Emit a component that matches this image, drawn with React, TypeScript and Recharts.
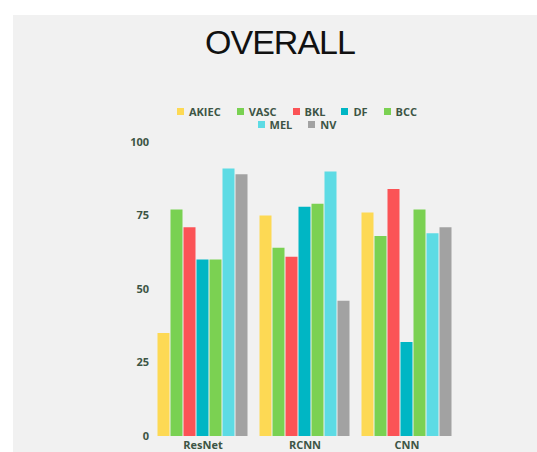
import { BarChart, Bar, XAxis, YAxis, Legend } from "recharts";

const models = ["ResNet", "RCNN", "CNN"];
const classes = ["AKIEC", "VASC", "BKL", "DF", "BCC", "MEL", "NV"];

// one array per class, in model order
const akiec = [35, 75, 76];
const vasc = [77, 64, 68];
const bkl = [71, 61, 84];
const df = [60, 78, 32];
const bcc = [60, 79, 77];
const mel = [91, 90, 69];
const nv = [89, 46, 71];

const yTicks = [0, 25, 50, 75, 100];

const COLORS = [
  "#fdd954", // AKIEC yellow
  "#79d152", // VASC green
  "#fb5356", // BKL red
  "#00b6c4", // DF teal
  "#7bd152", // BCC green
  "#5ddbe4", // MEL cyan
  "#a2a2a2", // NV gray
];

const seriesValues = [akiec, vasc, bkl, df, bcc, mel, nv];

const chartData = models.map((m, i) => {
  const row: Record<string, string | number> = { model: m };
  classes.forEach((c, j) => {
    row[c] = seriesValues[j][i];
  });
  return row;
});

const TEXT = "#3d5545";
const FONT = "'Open Sans', sans-serif";

const LegendContent = () => (
  <div
    style={{
      width: 260,
      margin: "0 auto",
      display: "flex",
      flexWrap: "wrap",
      justifyContent: "center",
      columnGap: 16,
      rowGap: 0,
      fontFamily: FONT,
      fontSize: 11,
      fontWeight: 700,
      color: TEXT,
      lineHeight: "13px",
    }}
  >
    {classes.map((c, i) => (
      <span key={c} style={{ display: "inline-flex", alignItems: "center" }}>
        <span
          style={{
            width: 7,
            height: 7,
            background: COLORS[i],
            marginRight: 5,
            display: "inline-block",
          }}
        />
        {c}
      </span>
    ))}
  </div>
);

export default function App() {
  return (
    <div
      style={{
        position: "absolute",
        left: 0,
        top: 0,
        width: 537,
        height: 452,
        background: "#ffffff",
        overflow: "hidden",
      }}
    >
      <div
        style={{
          position: "absolute",
          left: 13,
          top: 15,
          right: 0,
          bottom: 0,
          background: "#f1f1f1",
        }}
      />
      <div
        style={{
          position: "absolute",
          left: 0,
          width: 560,
          top: 22,
          textAlign: "center",
          fontFamily: "'Liberation Sans', Arial, sans-serif",
          fontSize: 34,
          letterSpacing: -1,
          color: "#111",
          lineHeight: "40px",
        }}
      >
        OVERALL
      </div>
      <div style={{ position: "absolute", left: 0, top: 0 }}>
        <BarChart
          width={537}
          height={452}
          data={chartData}
          margin={{ top: 116, right: 79, bottom: 0, left: 0 }}
          barCategoryGap={5.5}
          barGap={1}
        >
          <XAxis
            dataKey="model"
            height={16}
            axisLine={false}
            tickLine={false}
            tickSize={0}
            tickMargin={5}
            tick={{ fontSize: 11, fontWeight: 700, fill: TEXT, fontFamily: FONT }}
          />
          <YAxis
            width={152}
            domain={[0, 100]}
            ticks={yTicks}
            axisLine={false}
            tickLine={false}
            tickSize={0}
            tickMargin={3}
            tick={{ fontSize: 11, fontWeight: 700, fill: TEXT, fontFamily: FONT }}
          />
          <Legend
            verticalAlign="top"
            content={<LegendContent />}
            wrapperStyle={{ top: 105, left: 167, width: 260 }}
          />
          {classes.map((c, i) => (
            <Bar key={c} dataKey={c} fill={COLORS[i]} isAnimationActive={false} />
          ))}
        </BarChart>
      </div>
    </div>
  );
}
